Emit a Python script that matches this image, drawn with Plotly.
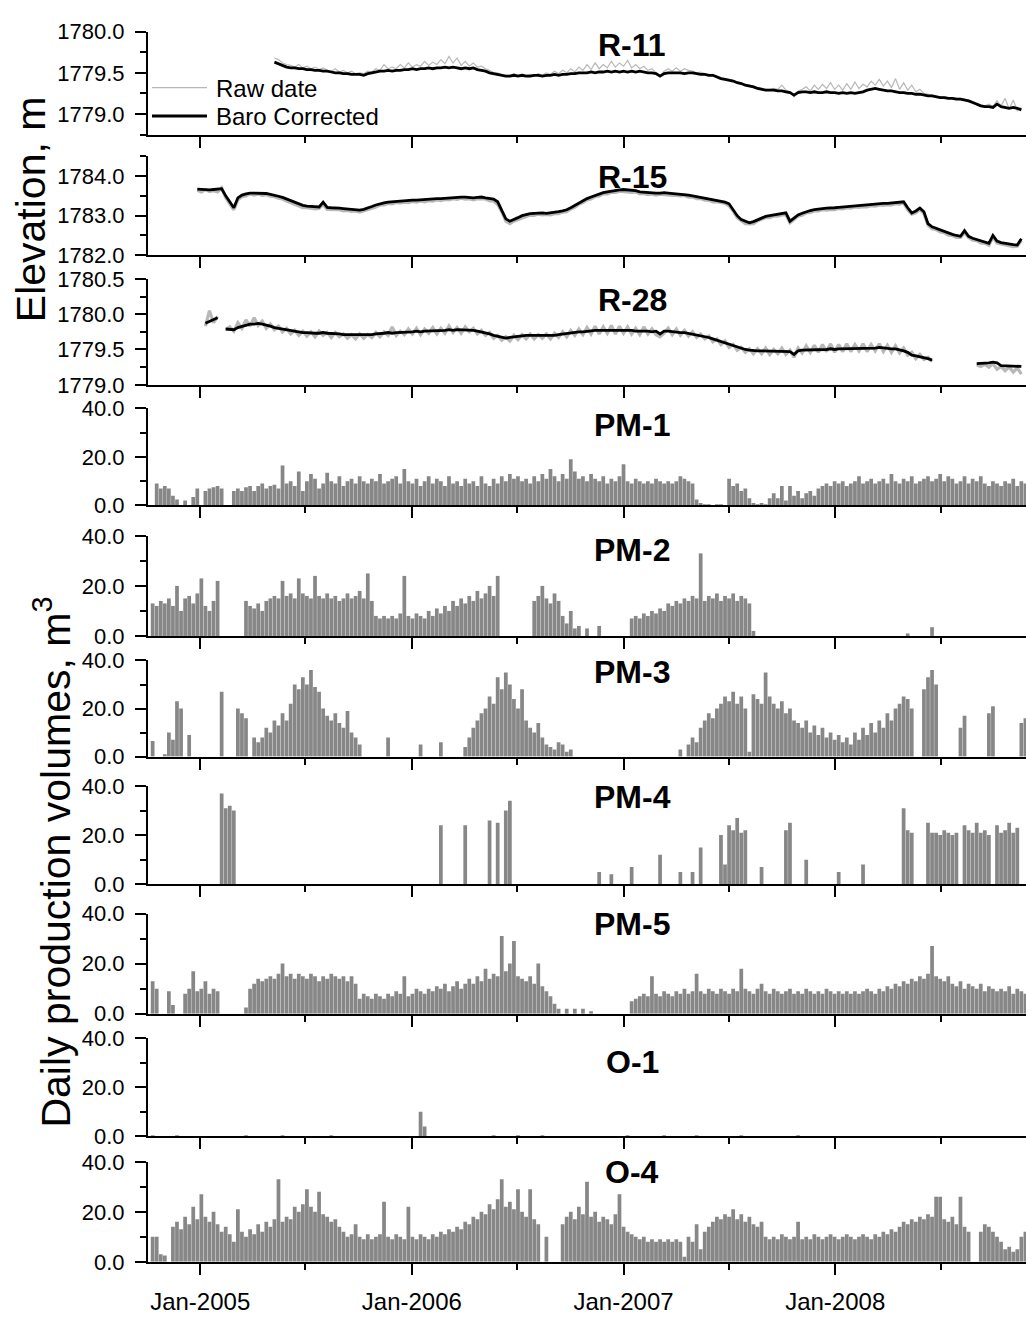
import plotly.graph_objects as go
import pandas as pd

W, H = 1026, 1320
FONT = "Liberation Sans, Arial, Helvetica, sans-serif"

# ---------------- data (weekly readings, Monday of each week) ----------------
dates = pd.date_range("2004-10-04", periods=217, freq="7D")

X_RANGE = ["2004-10-03", "2008-11-25"]
YEAR_TICKS = ["2005-01-01", "2006-01-01", "2007-01-01", "2008-01-01"]
YEAR_LABELS = ["Jan-2005", "Jan-2006", "Jan-2007", "Jan-2008"]
HALF_TICKS = ["2004-07-01", "2005-07-01", "2006-07-01", "2007-07-01", "2008-07-01"]

# water levels, m
R11_raw = [None] * 31 + [
    1779.68, 1779.66, 1779.62, 1779.60, 1779.59, 1779.57, 1779.60, 1779.56, 1779.58,
    1779.55, 1779.57, 1779.54, 1779.56, 1779.53, 1779.52, 1779.55, 1779.51, 1779.53, 1779.50,
    1779.52, 1779.49, 1779.50, 1779.49, 1779.52, 1779.51, 1779.55, 1779.53, 1779.60, 1779.55,
    1779.57, 1779.55, 1779.60, 1779.56, 1779.62, 1779.57, 1779.60, 1779.58, 1779.64, 1779.59,
    1779.63, 1779.60, 1779.66, 1779.61, 1779.70, 1779.62, 1779.68, 1779.59, 1779.64, 1779.58,
    1779.62, 1779.57, 1779.58, 1779.55, 1779.53, 1779.50, 1779.50, 1779.48, 1779.47, 1779.47,
    1779.49, 1779.47, 1779.48, 1779.47, 1779.48, 1779.47, 1779.49, 1779.47, 1779.50, 1779.48,
    1779.52, 1779.49, 1779.53, 1779.50, 1779.55, 1779.51, 1779.57, 1779.53, 1779.60, 1779.54,
    1779.62, 1779.55, 1779.60, 1779.56, 1779.64, 1779.57, 1779.62, 1779.58, 1779.65, 1779.56,
    1779.60, 1779.55, 1779.58, 1779.53, 1779.55, 1779.50, 1779.46, 1779.52, 1779.55, 1779.52,
    1779.56, 1779.52, 1779.55, 1779.53, 1779.52, 1779.50, 1779.51, 1779.49, 1779.48, 1779.48,
    1779.46, 1779.44, 1779.43, 1779.42, 1779.41, 1779.39, 1779.38, 1779.36, 1779.35, 1779.34,
    1779.32, 1779.31, 1779.30, 1779.30, 1779.31, 1779.30, 1779.35, 1779.29, 1779.27, 1779.21,
    1779.28, 1779.30, 1779.33, 1779.28, 1779.35, 1779.30, 1779.36, 1779.31, 1779.38, 1779.30,
    1779.35, 1779.29, 1779.37, 1779.30, 1779.39, 1779.31, 1779.36, 1779.33, 1779.40, 1779.35,
    1779.42, 1779.34, 1779.40, 1779.32, 1779.43, 1779.30, 1779.38, 1779.29, 1779.35, 1779.27,
    1779.30, 1779.25, 1779.24, 1779.23, 1779.22, 1779.21, 1779.21, 1779.20, 1779.20, 1779.19,
    1779.19, 1779.18, 1779.17, 1779.15, 1779.13, 1779.11, 1779.10, 1779.12, 1779.09, 1779.16,
    1779.10, 1779.19, 1779.06, 1779.17, 1779.04, 1779.08,
] + [None]

R11_corr = [None] * 31 + [
    1779.63, 1779.61, 1779.59, 1779.57, 1779.56, 1779.56, 1779.55, 1779.55, 1779.54,
    1779.54, 1779.53, 1779.53, 1779.52, 1779.52, 1779.51, 1779.50, 1779.50, 1779.49, 1779.49,
    1779.48, 1779.48, 1779.48, 1779.47, 1779.49, 1779.50, 1779.51, 1779.52, 1779.52, 1779.53,
    1779.52, 1779.53, 1779.53, 1779.54, 1779.54, 1779.55, 1779.54, 1779.55, 1779.55, 1779.56,
    1779.55, 1779.56, 1779.56, 1779.57, 1779.56, 1779.57, 1779.56, 1779.55, 1779.56, 1779.55,
    1779.56, 1779.54, 1779.53, 1779.52, 1779.50, 1779.49, 1779.48, 1779.47, 1779.46, 1779.46,
    1779.47, 1779.46, 1779.47, 1779.46, 1779.46, 1779.47, 1779.47, 1779.46, 1779.47, 1779.47,
    1779.48, 1779.47, 1779.48, 1779.48, 1779.49, 1779.49, 1779.50, 1779.50, 1779.50, 1779.51,
    1779.50, 1779.51, 1779.51, 1779.52, 1779.51, 1779.52, 1779.51, 1779.52, 1779.51, 1779.52,
    1779.51, 1779.52, 1779.51, 1779.50, 1779.50, 1779.49, 1779.46, 1779.49, 1779.50, 1779.50,
    1779.50, 1779.50, 1779.49, 1779.50, 1779.50, 1779.49, 1779.48, 1779.48, 1779.47, 1779.47,
    1779.45, 1779.43, 1779.42, 1779.41, 1779.40, 1779.38, 1779.37, 1779.35, 1779.34, 1779.33,
    1779.31, 1779.30, 1779.29, 1779.29, 1779.29, 1779.28, 1779.28, 1779.27, 1779.26, 1779.23,
    1779.26, 1779.27, 1779.27, 1779.26, 1779.27, 1779.26, 1779.26, 1779.27, 1779.26, 1779.26,
    1779.25, 1779.26, 1779.25, 1779.26, 1779.25, 1779.26, 1779.27, 1779.29, 1779.30, 1779.31,
    1779.30, 1779.29, 1779.28, 1779.28, 1779.27, 1779.26, 1779.26, 1779.25, 1779.25, 1779.24,
    1779.24, 1779.23, 1779.22, 1779.22, 1779.21, 1779.20, 1779.20, 1779.19, 1779.19, 1779.18,
    1779.18, 1779.17, 1779.16, 1779.14, 1779.12, 1779.10, 1779.09, 1779.09, 1779.08, 1779.12,
    1779.09, 1779.08, 1779.07, 1779.08, 1779.07, 1779.05,
] + [None]

R15_raw = [None] * 12 + [
    1783.64, 1783.60, 1783.66, 1783.61, 1783.63, 1783.60, 1783.70, 1783.45,
    1783.30, 1783.15, 1783.40, 1783.48, 1783.50, 1783.55, 1783.52, 1783.55, 1783.51, 1783.53,
    1783.49, 1783.48, 1783.44, 1783.42, 1783.37, 1783.33, 1783.27, 1783.24, 1783.20, 1783.20,
    1783.18, 1783.17, 1783.18, 1783.28, 1783.16, 1783.16, 1783.14, 1783.15, 1783.12, 1783.13,
    1783.11, 1783.12, 1783.09, 1783.12, 1783.14, 1783.19, 1783.22, 1783.27, 1783.27, 1783.31,
    1783.30, 1783.33, 1783.32, 1783.34, 1783.33, 1783.36, 1783.34, 1783.37, 1783.35, 1783.38,
    1783.37, 1783.40, 1783.38, 1783.41, 1783.40, 1783.43, 1783.41, 1783.44, 1783.42, 1783.43,
    1783.40, 1783.43, 1783.42, 1783.42, 1783.37, 1783.37, 1783.28, 1783.10, 1782.86, 1782.80,
    1782.86, 1782.90, 1782.96, 1782.98, 1783.01, 1783.01, 1783.04, 1783.02, 1783.03, 1783.02,
    1783.05, 1783.05, 1783.09, 1783.10, 1783.17, 1783.21, 1783.29, 1783.33, 1783.40, 1783.42,
    1783.48, 1783.50, 1783.55, 1783.55, 1783.59, 1783.59, 1783.62, 1783.61, 1783.62, 1783.59,
    1783.60, 1783.55, 1783.56, 1783.53, 1783.55, 1783.52, 1783.54, 1783.53, 1783.54, 1783.51,
    1783.52, 1783.50, 1783.51, 1783.47, 1783.47, 1783.43, 1783.43, 1783.39, 1783.39, 1783.35,
    1783.35, 1783.32, 1783.31, 1783.25, 1783.12, 1782.95, 1782.87, 1782.80, 1782.79, 1782.80,
    1782.87, 1782.90, 1782.95, 1782.95, 1782.99, 1782.99, 1783.02, 1783.02, 1782.82, 1782.90,
    1782.99, 1783.01, 1783.07, 1783.08, 1783.12, 1783.12, 1783.15, 1783.14, 1783.16, 1783.15,
    1783.18, 1783.17, 1783.20, 1783.19, 1783.22, 1783.21, 1783.23, 1783.22, 1783.25, 1783.24,
    1783.27, 1783.26, 1783.28, 1783.27, 1783.30, 1783.29, 1783.32, 1783.15, 1783.04, 1783.07,
    1783.16, 1783.05, 1782.76, 1782.67, 1782.65, 1782.59, 1782.57, 1782.51, 1782.50, 1782.45,
    1782.45, 1782.57, 1782.45, 1782.38, 1782.37, 1782.31, 1782.30, 1782.25, 1782.46, 1782.31,
    1782.29, 1782.25, 1782.25, 1782.22, 1782.23, 1782.38,
] + [None]

R15_corr = [None] * 12 + [
    1783.67, 1783.66, 1783.66, 1783.65, 1783.66, 1783.67, 1783.68, 1783.50,
    1783.35, 1783.20, 1783.45, 1783.52, 1783.55, 1783.57, 1783.57, 1783.57, 1783.57, 1783.56,
    1783.54, 1783.52, 1783.49, 1783.46, 1783.42, 1783.37, 1783.32, 1783.28, 1783.26, 1783.24,
    1783.23, 1783.22, 1783.22, 1783.34, 1783.21, 1783.20, 1783.20, 1783.19, 1783.18, 1783.17,
    1783.16, 1783.15, 1783.14, 1783.16, 1783.19, 1783.23, 1783.27, 1783.30, 1783.32, 1783.34,
    1783.35, 1783.36, 1783.37, 1783.37, 1783.38, 1783.39, 1783.39, 1783.40, 1783.40, 1783.41,
    1783.42, 1783.43, 1783.43, 1783.44, 1783.45, 1783.46, 1783.46, 1783.47, 1783.47, 1783.46,
    1783.45, 1783.46, 1783.47, 1783.45, 1783.44, 1783.42, 1783.35, 1783.15, 1782.92, 1782.86,
    1782.90, 1782.95, 1783.00, 1783.03, 1783.05, 1783.06, 1783.07, 1783.07, 1783.06, 1783.07,
    1783.08, 1783.10, 1783.12, 1783.15, 1783.20, 1783.26, 1783.32, 1783.38, 1783.43, 1783.47,
    1783.51, 1783.55, 1783.58, 1783.60, 1783.62, 1783.64, 1783.65, 1783.66, 1783.65, 1783.64,
    1783.63, 1783.60, 1783.59, 1783.58, 1783.58, 1783.57, 1783.57, 1783.58, 1783.57, 1783.56,
    1783.55, 1783.55, 1783.54, 1783.52, 1783.50, 1783.48, 1783.46, 1783.44, 1783.42, 1783.40,
    1783.38, 1783.37, 1783.34, 1783.30, 1783.15, 1783.00, 1782.90, 1782.85, 1782.82, 1782.85,
    1782.90, 1782.95, 1782.98, 1783.00, 1783.02, 1783.04, 1783.05, 1783.07, 1782.86, 1782.95,
    1783.02, 1783.06, 1783.10, 1783.13, 1783.15, 1783.17, 1783.18, 1783.19, 1783.19, 1783.20,
    1783.21, 1783.22, 1783.23, 1783.24, 1783.25, 1783.26, 1783.26, 1783.27, 1783.28, 1783.29,
    1783.30, 1783.31, 1783.31, 1783.32, 1783.33, 1783.34, 1783.35, 1783.20, 1783.07, 1783.12,
    1783.19, 1783.10, 1782.80, 1782.72, 1782.68, 1782.64, 1782.60, 1782.56, 1782.53, 1782.50,
    1782.48, 1782.62, 1782.48, 1782.43, 1782.40, 1782.36, 1782.33, 1782.30, 1782.50, 1782.36,
    1782.32, 1782.30, 1782.28, 1782.27, 1782.26, 1782.42,
] + [None]

R28_raw = [None] * 14 + [1779.83, 1780.05, 1779.88, 1779.97] + [None] + [1779.78] + [
    1779.82, 1779.76, 1779.88, 1779.80, 1779.92, 1779.83, 1779.95, 1779.84, 1779.90, 1779.80,
    1779.86, 1779.78, 1779.83, 1779.75, 1779.80, 1779.72, 1779.77, 1779.70, 1779.76, 1779.69,
    1779.75, 1779.68, 1779.76, 1779.70, 1779.74, 1779.67, 1779.74, 1779.68, 1779.72, 1779.66,
    1779.71, 1779.65, 1779.72, 1779.66, 1779.71, 1779.67, 1779.74, 1779.68, 1779.75, 1779.70,
    1779.82, 1779.70, 1779.76, 1779.71, 1779.79, 1779.72, 1779.80, 1779.71, 1779.79, 1779.73,
    1779.81, 1779.72, 1779.80, 1779.73, 1779.83, 1779.74, 1779.81, 1779.73, 1779.82, 1779.75,
    1779.80, 1779.72, 1779.77, 1779.70, 1779.74, 1779.66, 1779.70, 1779.63, 1779.68, 1779.62,
    1779.70, 1779.64, 1779.71, 1779.65, 1779.72, 1779.65, 1779.71, 1779.66, 1779.72, 1779.65,
    1779.73, 1779.67, 1779.75, 1779.68, 1779.77, 1779.70, 1779.79, 1779.71, 1779.81, 1779.72,
    1779.83, 1779.72, 1779.82, 1779.73, 1779.84, 1779.72, 1779.83, 1779.73, 1779.82, 1779.72,
    1779.80, 1779.71, 1779.82, 1779.72, 1779.79, 1779.71, 1779.68, 1779.73, 1779.80, 1779.71,
    1779.79, 1779.70, 1779.77, 1779.69, 1779.75, 1779.67, 1779.72, 1779.65, 1779.69, 1779.61,
    1779.65, 1779.57, 1779.62, 1779.53, 1779.57, 1779.49, 1779.53, 1779.46, 1779.51, 1779.44,
    1779.51, 1779.44, 1779.52, 1779.43, 1779.50, 1779.44, 1779.52, 1779.43, 1779.49, 1779.39,
    1779.52, 1779.45, 1779.55, 1779.46, 1779.56, 1779.46, 1779.57, 1779.47, 1779.58, 1779.46,
    1779.57, 1779.47, 1779.58, 1779.47, 1779.57, 1779.48, 1779.58, 1779.47, 1779.57, 1779.48,
    1779.58, 1779.47, 1779.56, 1779.46, 1779.55, 1779.45, 1779.52, 1779.42, 1779.46, 1779.37,
    1779.43, 1779.36, 1779.39, 1779.33,
] + [None] * 10 + [
    1779.28, 1779.26, 1779.29, 1779.25, 1779.30, 1779.22,
    1779.26, 1779.20, 1779.25, 1779.18, 1779.24, 1779.15,
] + [None]

R28_corr = [None] * 14 + [1779.87, 1779.90, 1779.93, 1779.95] + [None] + [1779.79] + [
    1779.79, 1779.78, 1779.81, 1779.83, 1779.85, 1779.86, 1779.86, 1779.87, 1779.86, 1779.85,
    1779.83, 1779.81, 1779.80, 1779.79, 1779.77, 1779.76, 1779.75, 1779.75, 1779.74, 1779.74,
    1779.73, 1779.73, 1779.73, 1779.74, 1779.73, 1779.73, 1779.72, 1779.72, 1779.71, 1779.71,
    1779.70, 1779.70, 1779.70, 1779.70, 1779.70, 1779.71, 1779.72, 1779.72, 1779.73, 1779.74,
    1779.73, 1779.74, 1779.74, 1779.75, 1779.75, 1779.75, 1779.76, 1779.75, 1779.76, 1779.76,
    1779.77, 1779.77, 1779.76, 1779.77, 1779.78, 1779.77, 1779.78, 1779.78, 1779.77, 1779.78,
    1779.77, 1779.76, 1779.75, 1779.74, 1779.72, 1779.70, 1779.69, 1779.67, 1779.66, 1779.67,
    1779.68, 1779.69, 1779.69, 1779.70, 1779.70, 1779.70, 1779.69, 1779.70, 1779.70, 1779.69,
    1779.70, 1779.71, 1779.72, 1779.72, 1779.73, 1779.74, 1779.75, 1779.75, 1779.76, 1779.76,
    1779.77, 1779.77, 1779.77, 1779.78, 1779.78, 1779.77, 1779.78, 1779.78, 1779.77, 1779.77,
    1779.76, 1779.76, 1779.77, 1779.76, 1779.75, 1779.76, 1779.72, 1779.76, 1779.76, 1779.75,
    1779.75, 1779.74, 1779.74, 1779.73, 1779.72, 1779.71, 1779.70, 1779.69, 1779.67, 1779.65,
    1779.63, 1779.61, 1779.59, 1779.57, 1779.55, 1779.53, 1779.51, 1779.50, 1779.49, 1779.48,
    1779.48, 1779.48, 1779.48, 1779.48, 1779.47, 1779.48, 1779.48, 1779.47, 1779.47, 1779.43,
    1779.48, 1779.49, 1779.49, 1779.50, 1779.49, 1779.50, 1779.50, 1779.50, 1779.51, 1779.50,
    1779.51, 1779.51, 1779.51, 1779.52, 1779.51, 1779.52, 1779.52, 1779.51, 1779.52, 1779.52,
    1779.53, 1779.52, 1779.52, 1779.51, 1779.51, 1779.50, 1779.48, 1779.46, 1779.42, 1779.41,
    1779.40, 1779.39, 1779.37, 1779.35,
] + [None] * 10 + [
    1779.30, 1779.30, 1779.30, 1779.31, 1779.32, 1779.31,
    1779.27, 1779.27, 1779.26, 1779.27, 1779.26, 1779.26,
] + [None]

# daily production volumes, m3
PM1 = [
    0, 0, 9, 7, 8, 7, 4, 2.5, 0, 2,
    0, 3.5, 7, 0, 6, 7, 7.5, 8, 7, 0,
    0, 6, 7, 6, 7.5, 8, 6, 8, 9, 7,
    8, 8.5, 7, 16.5, 9, 10, 8, 14, 6, 10,
    13, 11, 7, 9, 13.5, 10, 9, 12, 8, 10,
    11, 9, 12, 10, 9, 11, 10, 13, 9, 10,
    11, 12, 9, 15, 10, 9, 11, 8, 10, 12,
    9, 11, 10, 8, 12, 9, 10, 8, 11, 9,
    10, 8, 12, 9, 8, 11, 9, 12, 10, 13,
    11, 12, 10, 11, 9, 12, 10, 13, 11, 15,
    12, 10, 13, 11, 19, 14, 11, 12, 10, 13,
    11, 10, 12, 9, 11, 10, 12, 17, 10, 9,
    11, 10, 9, 10, 9, 11, 10, 9, 10, 9,
    10, 12, 11, 10, 9, 2.5, 1, 0.5, 0.5, 0,
    0.5, 0.5, 0, 11, 8, 9, 6, 7, 3, 1,
    0.5, 1, 0.5, 3, 5, 3, 8, 2, 8, 4,
    6, 3, 5, 6, 4, 7, 8, 9, 8, 10,
    9, 10, 8, 9, 10, 12, 9, 10, 11, 9,
    10, 11, 9, 13, 10, 9, 11, 10, 12, 9,
    10, 11, 12, 10, 11, 13, 10, 12, 11, 9,
    10, 12, 9, 11, 10, 12, 9, 8, 10, 9,
    8, 10, 9, 11, 8, 10, 9,
]

PM2 = [
    0, 13, 12, 14, 13, 15, 12, 20, 10, 15,
    16, 13, 17, 23, 12, 10, 14, 22, 0, 0,
    0, 0, 0, 0, 14, 12, 11, 13, 10, 14,
    15, 16, 15, 22, 16, 17, 15, 23, 17, 16,
    15, 24, 16, 15, 17, 15, 16, 14, 15, 17,
    15, 16, 18, 15, 25, 14, 8, 7, 8, 7,
    8, 7, 9, 24, 8, 7, 9, 8, 7, 10,
    8, 11, 9, 12, 10, 14, 12, 15, 13, 16,
    14, 18, 15, 17, 20, 16, 24, 0, 0, 0,
    0, 0, 0, 0, 0, 14, 16, 20, 15, 13,
    17, 14, 8, 5, 10, 3, 4, 0, 3, 0,
    0, 4, 0, 0, 0, 0, 0, 0, 0, 7,
    8, 7, 9, 8, 10, 9, 11, 10, 13, 12,
    14, 13, 15, 14, 16, 15, 33, 14, 16, 15,
    17, 14, 16, 15, 17, 14, 16, 15, 13, 2,
    0, 0, 0, 0, 0, 0, 0, 0, 0, 0,
    0, 0, 0, 0, 0, 0, 0, 0, 0, 0,
    0, 0, 0, 0, 0, 0, 0, 0, 0, 0,
    0, 0, 0, 0, 0, 0, 0, 1, 0, 0,
    0, 0, 0, 3.5, 0, 0, 0, 0, 0, 0,
    0, 0, 0, 0, 0, 0, 0, 0, 0, 0,
    0, 0, 0, 0, 0, 0, 0,
]

PM3 = [
    0, 6.5, 0, 0, 1, 10, 7, 23, 20, 0,
    9, 0, 0, 0, 0, 0, 0, 0, 27, 0,
    0, 0, 20, 18, 16, 0, 8, 6, 8, 12,
    10, 15, 13, 18, 15, 22, 30, 28, 33, 30,
    36, 29, 27, 20, 17, 15, 18, 14, 12, 19,
    10, 8, 5, 0, 0, 0, 0, 0, 0, 8,
    0, 0, 0, 0, 0, 0, 0, 5, 0, 0,
    0, 0, 6, 0, 0, 0, 0, 0, 4, 8,
    12, 15, 18, 20, 25, 22, 33, 28, 35, 30,
    24, 20, 28, 15, 12, 10, 14, 8, 5, 4,
    3, 6, 5, 2, 3, 0, 0, 0, 0, 0,
    0, 0, 0, 0, 0, 0, 0, 0, 0, 0,
    0, 0, 0, 0, 0, 0, 0, 0, 0, 0,
    0, 3, 0, 5, 8, 6, 12, 15, 18, 16,
    20, 22, 25, 23, 27, 22, 25, 20, 2, 26,
    24, 22, 35, 25, 22, 20, 23, 18, 20, 15,
    14, 12, 15, 10, 13, 9, 12, 8, 10, 7,
    9, 6, 8, 5, 10, 7, 12, 9, 14, 10,
    15, 12, 18, 15, 20, 22, 25, 24, 20, 0,
    0, 28, 33, 36, 30, 0, 0, 0, 0, 0,
    12, 17, 0, 0, 0, 0, 0, 18, 21, 0,
    0, 0, 0, 0, 0, 14, 16,
]

PM4 = [
    0, 0, 0, 0, 0, 0, 0, 0, 0, 0,
    0, 0, 0, 0, 0, 0, 0, 0, 37, 31,
    32, 30, 0, 0, 0, 0, 0, 0, 0, 0,
    0, 0, 0, 0, 0, 0, 0, 0, 0, 0,
    0, 0, 0, 0, 0, 0, 0, 0, 0, 0,
    0, 0, 0, 0, 0, 0, 0, 0, 0, 0,
    0, 0, 0, 0, 0, 0, 0, 0, 0, 0,
    0, 0, 24, 0, 0, 0, 0, 0, 24, 0,
    0, 0, 0, 0, 26, 0, 25, 0, 30, 34,
    0, 0, 0, 0, 0, 0, 0, 0, 0, 0,
    0, 0, 0, 0, 0, 0, 0, 0, 0, 0,
    0, 5, 0, 0, 4, 0, 0, 0, 0, 7,
    0, 0, 0, 0, 0, 0, 12, 0, 0, 0,
    0, 5, 0, 0, 5, 0, 15, 0, 0, 0,
    0, 20, 8, 24, 22, 27, 21, 22, 0, 0,
    0, 7, 0, 0, 0, 0, 0, 22, 25, 0,
    0, 0, 10, 0, 0, 0, 0, 0, 0, 0,
    5, 0, 0, 0, 0, 0, 8, 0, 0, 0,
    0, 0, 0, 0, 0, 0, 31, 22, 21, 0,
    0, 0, 25, 21, 21, 20, 22, 21, 20, 21,
    0, 24, 22, 21, 25, 21, 22, 20, 0, 24,
    21, 22, 25, 21, 23, 0, 0,
]

PM5 = [
    0, 13, 10, 0, 0, 9, 3.5, 0, 0, 8,
    10, 17, 9, 10, 13, 8, 10, 9, 0, 0,
    0, 0, 0, 0, 2.5, 10, 12, 14, 13, 14,
    15, 14, 16, 20, 15, 16, 14, 16, 15, 14,
    16, 15, 13, 15, 14, 16, 15, 14, 15, 13,
    15, 12, 6, 8, 7, 6, 8, 7, 6, 8,
    7, 9, 8, 15, 7, 8, 10, 9, 8, 10,
    9, 11, 10, 12, 9, 11, 13, 10, 12, 14,
    12, 15, 13, 18, 14, 16, 15, 31, 17, 20,
    29, 15, 14, 13, 15, 12, 20, 11, 9, 7,
    4, 2, 0, 2, 0, 2, 0, 2, 0, 1,
    0, 0, 0, 0, 0, 0, 0, 0, 0, 5,
    6, 7, 8, 7, 15, 8, 7, 9, 8, 7,
    9, 8, 10, 8, 9, 16, 9, 8, 10, 9,
    8, 10, 9, 8, 10, 9, 18, 10, 9, 8,
    10, 12, 9, 8, 10, 9, 8, 9, 10, 8,
    9, 8, 10, 9, 8, 9, 8, 10, 9, 8,
    9, 8, 9, 8, 9, 8, 9, 10, 9, 8,
    10, 9, 11, 10, 12, 11, 13, 12, 14, 13,
    15, 14, 16, 27, 15, 14, 13, 15, 12, 11,
    13, 10, 12, 11, 10, 12, 9, 11, 10, 9,
    10, 9, 11, 8, 10, 9, 8,
]

O1 = [
    0, 0.4, 0, 0, 0, 0, 0, 0.4, 0, 0,
    0, 0, 0, 0, 0, 0, 0, 0, 0, 0,
    0, 0, 0, 0, 0.4, 0, 0, 0, 0, 0,
    0, 0, 0, 0.4, 0, 0, 0, 0, 0, 0,
    0, 0, 0, 0, 0, 0.4, 0, 0, 0, 0,
    0, 0, 0, 0, 0, 0, 0, 0, 0, 0,
    0, 0, 0, 0, 0, 0, 0, 10, 4, 0,
    0, 0, 0, 0, 0, 0, 0, 0, 0, 0,
    0, 0, 0, 0, 0, 0.4, 0, 0, 0, 0,
    0, 0.4, 0, 0, 0, 0, 0, 0.4, 0, 0,
    0, 0, 0, 0, 0, 0, 0, 0, 0, 0,
    0, 0, 0, 0, 0, 0, 0, 0, 0.4, 0,
    0, 0, 0, 0, 0, 0, 0, 0.4, 0, 0,
    0, 0, 0, 0, 0, 0.4, 0, 0, 0, 0,
    0, 0, 0, 0, 0, 0, 0.4, 0, 0, 0,
    0, 0, 0, 0, 0, 0, 0, 0, 0, 0,
    0.4, 0, 0, 0, 0, 0, 0, 0, 0, 0,
    0, 0, 0, 0, 0, 0, 0, 0, 0, 0,
    0, 0, 0, 0, 0, 0, 0, 0, 0, 0,
    0, 0, 0, 0, 0, 0, 0, 0, 0, 0,
    0, 0, 0, 0, 0, 0, 0, 0, 0, 0,
    0, 0, 0, 0, 0, 0, 0,
]

O4 = [
    0, 10, 10, 3, 2.5, 0, 14, 16, 13, 18,
    15, 22, 17, 27, 18, 16, 20, 15, 12, 14,
    11, 8, 21, 12, 10, 13, 11, 15, 12, 16,
    14, 17, 33, 16, 18, 17, 22, 20, 23, 29,
    22, 20, 28, 19, 18, 16, 17, 14, 12, 10,
    11, 15, 10, 9, 11, 9, 10, 11, 24, 10,
    9, 11, 10, 9, 22, 10, 9, 11, 10, 9,
    11, 10, 12, 11, 13, 12, 14, 13, 16, 15,
    18, 17, 20, 19, 23, 21, 25, 33, 22, 24,
    21, 29, 20, 18, 29, 17, 15, 0, 10, 0,
    0, 0, 15, 18, 20, 17, 22, 19, 32, 18,
    20, 16, 18, 17, 15, 19, 27, 14, 12, 11,
    10, 9, 10, 8, 9, 8, 9, 8, 9, 8,
    9, 8, 2, 10, 8, 15, 5, 12, 14, 16,
    18, 17, 19, 18, 21, 17, 19, 16, 18, 15,
    14, 16, 10, 9, 10, 9, 11, 10, 9, 10,
    16, 9, 10, 9, 11, 10, 9, 10, 11, 10,
    9, 10, 11, 10, 9, 10, 11, 10, 9, 11,
    10, 12, 11, 13, 12, 14, 16, 15, 17, 16,
    18, 17, 19, 18, 26, 26, 17, 16, 18, 15,
    26, 14, 12, 0, 0, 12, 15, 14, 12, 10,
    8, 5, 6, 4, 5, 10, 12,
]

for nm, arr in [("R11_raw", R11_raw), ("R11_corr", R11_corr), ("R15_raw", R15_raw),
                ("R15_corr", R15_corr), ("R28_raw", R28_raw), ("R28_corr", R28_corr),
                ("PM1", PM1), ("PM2", PM2), ("PM3", PM3), ("PM4", PM4), ("PM5", PM5),
                ("O1", O1), ("O4", O4)]:
    assert len(arr) == len(dates), (nm, len(arr))

# ---------------- layout geometry (pixel top / bottom of each panel) ----------------
GEOM = [(20, 125), (147, 248), (272, 380), (404, 503), (534, 636),
        (661, 759), (789, 889), (919, 1021), (1046, 1146), (1172, 1274)]
TITLE_Y = [34, 168, 294, 421, 548, 673, 800, 930, 1070, 1182]
L_MARGIN = 148
PLOT_W = W - L_MARGIN


def px_x(px):
    return (px - L_MARGIN) / PLOT_W


def px_y(py):
    return 1 - py / H


line_panels = [
    ("R-11", R11_raw, R11_corr, 1.2, [1778.75, 1780.0], [1779.0, 1779.5, 1780.0], 0.25),
    ("R-15", R15_raw, R15_corr, 3.2, [1782.0, 1784.5], [1782.0, 1783.0, 1784.0], 0.5),
    ("R-28", R28_raw, R28_corr, 3.2, [1779.0, 1780.5], [1779.0, 1779.5, 1780.0, 1780.5], 0.25),
]
bar_panels = [("PM-1", PM1), ("PM-2", PM2), ("PM-3", PM3), ("PM-4", PM4),
              ("PM-5", PM5), ("O-1", O1), ("O-4", O4)]

fig = go.Figure()
annotations = []
AX = dict(showline=True, linecolor="black", linewidth=2, ticks="outside",
          tickwidth=2, tickcolor="black", showgrid=False, zeroline=False)

for k in range(1, 11):
    s = "" if k == 1 else str(k)
    top, bot = GEOM[k - 1]
    xa = dict(AX, domain=[0, 1], anchor="y" + s, type="date", range=X_RANGE,
              ticklen=11, tickvals=YEAR_TICKS, ticktext=YEAR_LABELS,
              showticklabels=(k == 10), ticklabelstandoff=6,
              tickfont=dict(size=24, family=FONT, color="black"),
              minor=dict(tickvals=HALF_TICKS, ticks="outside", ticklen=6,
                         tickwidth=2, tickcolor="black"))
    if k > 1:
        xa["matches"] = "x"
    fig.layout["xaxis" + s] = xa

    if k <= 3:
        name, raw, corr, rw, yr, tv, mdt = line_panels[k - 1]
        fig.add_trace(go.Scatter(x=dates, y=raw, mode="lines", name="Raw date",
                                 line=dict(color="#b8b8b8", width=rw),
                                 xaxis="x" + s, yaxis="y" + s, showlegend=False))
        fig.add_trace(go.Scatter(x=dates, y=corr, mode="lines", name="Baro Corrected",
                                 line=dict(color="black", width=2.8),
                                 xaxis="x" + s, yaxis="y" + s, showlegend=False))
    else:
        name, vals = bar_panels[k - 4]
        yr, tv, mdt = [0, 40], [0, 20, 40], 10
        fig.add_trace(go.Bar(x=dates, y=vals, name=name,
                             marker=dict(color="#878787", line=dict(width=0)),
                             xaxis="x" + s, yaxis="y" + s, showlegend=False))

    fig.layout["yaxis" + s] = dict(
        AX, domain=[px_y(bot), px_y(top)], anchor="x" + s, range=yr,
        tickvals=tv, tickformat=".1f", ticklen=11, ticklabelstandoff=6,
        tickfont=dict(size=22, family=FONT, color="black"),
        minor=dict(dtick=mdt, tick0=0, ticks="outside", ticklen=6,
                   tickwidth=2, tickcolor="black"))

    annotations.append(dict(text="<b>%s</b>" % name, x=px_x(632), y=px_y(TITLE_Y[k - 1]),
                            xref="paper", yref="paper", showarrow=False,
                            xanchor="center", yanchor="middle",
                            font=dict(size=32, family=FONT, color="black")))

# axis titles
annotations.append(dict(text="Elevation, m", textangle=-90, x=px_x(31), y=px_y(201),
                        xref="paper", yref="paper", showarrow=False,
                        xanchor="center", yanchor="middle",
                        font=dict(size=41, family=FONT, color="black")))
annotations.append(dict(text="Daily production volumes, m<sup>3</sup>", textangle=-90,
                        x=px_x(52), y=px_y(867), xref="paper", yref="paper",
                        showarrow=False, xanchor="center", yanchor="middle",
                        font=dict(size=41, family=FONT, color="black")))

# legend (R-11 panel)
shapes = [
    dict(type="line", xref="paper", yref="paper", x0=px_x(152), x1=px_x(207),
         y0=px_y(77), y1=px_y(77), line=dict(color="#b8b8b8", width=1.2)),
    dict(type="line", xref="paper", yref="paper", x0=px_x(152), x1=px_x(207),
         y0=px_y(106), y1=px_y(106), line=dict(color="black", width=3)),
]
annotations.append(dict(text="Raw date", x=px_x(214), y=px_y(78), xref="paper", yref="paper",
                        showarrow=False, xanchor="left", yanchor="middle",
                        font=dict(size=24, family=FONT, color="black")))
annotations.append(dict(text="Baro Corrected", x=px_x(214), y=px_y(107), xref="paper",
                        yref="paper", showarrow=False, xanchor="left", yanchor="middle",
                        font=dict(size=24, family=FONT, color="black")))

fig.update_layout(width=W, height=H, margin=dict(l=L_MARGIN, r=0, t=0, b=0),
                  paper_bgcolor="white", plot_bgcolor="white", bargap=0.08,
                  showlegend=False, annotations=annotations, shapes=shapes,
                  font=dict(family=FONT, color="black"))

fig.write_html("out.html")
